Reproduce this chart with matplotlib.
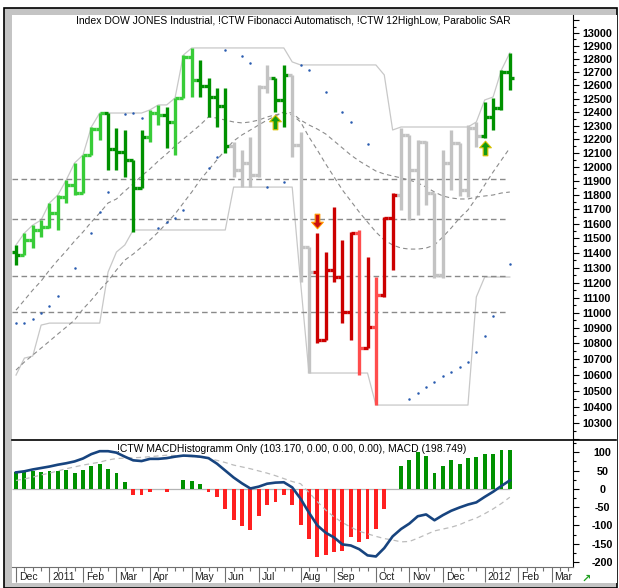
import numpy as np
import pandas as pd
import matplotlib
matplotlib.use('Agg')
import matplotlib.pyplot as plt
from matplotlib.collections import LineCollection
from matplotlib.patches import Rectangle
from matplotlib.lines import Line2D
from matplotlib.path import Path
from matplotlib.transforms import ScaledTranslation, IdentityTransform
import matplotlib.ticker as mticker

plt.rcParams['font.family'] = ['Liberation Sans', 'DejaVu Sans']

# weekly bars (Friday), Dec 2010 .. Jan 2012
weeks = pd.date_range('2010-12-10', periods=60, freq='W-FRI')

highs = [11454, 11536, 11591, 11626, 11745, 11801, 11907, 12029, 12086, 12290,
         12393, 12393, 12283, 12268, 12050, 12268, 12416, 12453, 12438, 12505,
         12830, 12884, 12792, 12655, 12580, 12580, 12180, 12122, 12217, 12602,
         12754, 12655, 12754, 12678, 12253, 11440, 11536, 11406, 11717, 11488,
         11543, 11557, 11372, 11237, 11647, 11815, 12283, 12232, 12195, 12188,
         11815, 12122, 12268, 12173, 12305, 12327, 12475, 12505, 12716, 12846]
lows = [11318, 11385, 11433, 11509, 11571, 11557, 11745, 11801, 11815, 12086,
        12195, 11979, 11979, 11929, 11543, 11850, 12180, 12305, 12137, 12086,
        12505, 12512, 12512, 12364, 12290, 12101, 11929, 11857, 11857, 11929,
        12542, 12401, 12290, 12072, 11203, 10611, 10802, 10822, 11203, 10932,
        10822, 10598, 10770, 10410, 11104, 11284, 11696, 11626, 11661, 11731,
        11230, 11230, 11836, 11794, 11787, 12144, 12210, 12268, 12416, 12565]
closes = [11385, 11488, 11557, 11578, 11675, 11787, 11872, 11815, 12086, 12276,
          12393, 12130, 12108, 12050, 11850, 12217, 12393, 12379, 12327, 12505,
          12815, 12640, 12595, 12512, 12445, 12152, 11979, 12029, 11943, 12587,
          12655, 12490, 12678, 12159, 11440, 11271, 10822, 11284, 11237, 11004,
          11536, 10770, 10906, 11117, 11640, 11801, 12232, 11979, 12180, 11815,
          11250, 12029, 12173, 11836, 12283, 12224, 12364, 12430, 12701, 12655]
first_open = 11406
opens = [first_open] + closes[:-1]

# G dark green, g light green, n neutral, R dark red, r light red
trend = ("G" + "g" * 10 + "G" * 5 + "gg" + "G" + "ggg" + "G" * 4 + "n" * 5 + "GG"
         + "n" * 3 + "R" * 5 + "r" + "R" + "r" + "RR" + "n" * 10 + "G" * 4)

# !CTW 12HighLow channel
chan_high = [11454, 11536, 11591, 11626, 11745, 11801, 11907, 12029, 12086, 12290,
             12393, 12393, 12393, 12393, 12393, 12393, 12416, 12453, 12453, 12505,
             12830, 12884, 12884, 12884, 12884, 12884, 12884, 12884, 12884, 12884,
             12884, 12884, 12884, 12777, 12754, 12754, 12754, 12754, 12754, 12754,
             12754, 12754, 12754, 12754, 12678, 12268, 12290, 12290, 12290, 12290,
             12290, 12290, 12290, 12290, 12290, 12327, 12490, 12512, 12716, 12846]
chan_low = [10598, 10706, 10719, 10919, 10932, 10932, 10932, 10932, 10932, 10932,
            10932, 11271, 11406, 11454, 11557, 11557, 11557, 11557, 11557, 11557,
            11557, 11557, 11557, 11557, 11557, 11557, 11857, 11857, 11857, 11857,
            11857, 11857, 11857, 11857, 11203, 10611, 10611, 10611, 10611, 10611,
            10611, 10611, 10611, 10410, 10410, 10410, 10410, 10410, 10410, 10410,
            10410, 10410, 10410, 10410, 10410, 11104, 11237, 11237, 11237, 11237]

# dashed averages
avg_fast = [11017, 11083, 11150, 11210, 11284, 11351, 11413, 11481, 11543, 11612,
            11675, 11745, 11773, 11829, 11879, 11936, 11986, 12043, 12094, 12151,
            12202, 12253, 12305, 12364, 12356, 12341, 12327, 12320, 12327, 12341,
            12364, 12379, 12393, 12379, 12327, 12217, 12122, 12022, 11929, 11836,
            11759, 11682, 11612, 11543, 11488, 11454, 11433, 11426, 11426, 11433,
            11454, 11509, 11571, 11640, 11696, 11780, 11872, 11964, 12050, 12137]
avg_slow = [10630, 10681, 10725, 10770, 10815, 10861, 10906, 10952, 11024, 11083,
            11150, 11210, 11284, 11351, 11392, 11440, 11488, 11543, 11605, 11668,
            11745, 11822, 11907, 11979, 12050, 12122, 12188, 12232, 12268, 12305,
            12341, 12371, 12401, 12393, 12341, 12305, 12275, 12239, 12188, 12137,
            12086, 12043, 12007, 11971, 11950, 11936, 11922, 11907, 11886, 11857,
            11822, 11794, 11780, 11773, 11773, 11787, 11794, 11801, 11815, 11822]

# !CTW Fibonacci Automatisch levels
fib_levels = [11917, 11630, 11243, 11002]

# Parabolic SAR
sar_idx = [0, 1, 2, 3, 4, 5, 7, 9, 10, 11, 13, 14, 15, 17, 18, 19, 20, 23, 24, 25,
           27, 28, 30, 32, 34, 35, 37, 39, 40, 42, 47, 48, 49, 50, 51, 52, 53, 54,
           55, 56, 57, 59]
sar_val = [10932, 10932, 10958, 10998, 11044, 11110, 11298, 11536, 11682, 11822,
           12386, 12393, 12356, 11571, 11612, 11640, 11696, 11993, 12072, 12869,
           12822, 12769, 11857, 11893, 12754, 12716, 12550, 12401, 12327, 12166,
           10447, 10485, 10522, 10554, 10592, 10617, 10649, 10681, 10745, 10848,
           10978, 11325]

buy_bars = [31, 56]
sell_bars = [36]

# MACD panel
hist = [46, 49, 49, 46, 49, 49, 51, 42, 51, 62, 69, 53, 42, 19, -18, -18, -9, 0, -9, 0,
        23, 21, 12, -9, -22, -54, -84, -103, -112, -73, -45, -36, -18, -45, -100, -138,
        -187, -182, -173, -170, -132, -146, -136, -109, -54, 0, 62, 80, 101, 89, 43, 62,
        78, 69, 85, 87, 94, 94, 107, 107]
macd = [45, 48, 53, 57, 61, 66, 70, 75, 83, 95, 103, 103, 99, 88, 78, 76, 82, 82, 84, 88,
        91, 90, 88, 84, 69, 50, 31, 15, 1, 6, 14, 17, 18, 4, -27, -65, -100, -120, -133,
        -152, -155, -165, -182, -185, -162, -130, -110, -95, -75, -70, -86, -72, -60, -51,
        -43, -37, -22, -8, 8, 23]
signal = [23, 27, 32, 38, 43, 49, 55, 60, 65, 69, 73, 79, 83, 84, 85, 86, 88, 90, 92, 91,
          89, 88, 87, 83, 78, 72, 65, 60, 55, 49, 43, 36, 28, 20, 14, -10, -35, -58, -77,
          -92, -105, -116, -123, -130, -136, -140, -145, -144, -135, -125, -115, -110, -105,
          -98, -88, -80, -68, -55, -40, -23]

title = "Index DOW JONES Industrial, !CTW Fibonacci Automatisch, !CTW 12HighLow, Parabolic SAR"
macd_title = "!CTW MACDHistogramm Only (103.170, 0.00, 0.00, 0.00), MACD (198.749)"

bar_colors = {'G': '#009100', 'g': '#38cc38', 'n': '#c3c3c3', 'R': '#cc0000', 'r': '#ff4d4d'}

W, H = 619, 588
fig = plt.figure(figsize=(W / 100, H / 100), dpi=100, facecolor='white')

# outer frame
px = IdentityTransform()
fig.patches.append(Rectangle((4, 0), 613, H - 7.5, facecolor='#c4c4c4', edgecolor='black',
                             lw=1.2, transform=px, zorder=-10))
fig.patches.append(Rectangle((12, H - 583), 604.5, 568, facecolor='white', edgecolor='none',
                             transform=px, zorder=-9))

x0, x1 = -0.48, 66.55
ax = fig.add_axes([12 / W, (H - 440) / H, 561 / W, 425 / H])
ax2 = fig.add_axes([12 / W, (H - 566.7) / H, 561 / W, 126.7 / H], sharex=ax)

idx = np.arange(len(closes))

# ---- main panel ----
ax.set_yscale('log')
ax.set_ylim(10195, 13140)
ax.set_xlim(x0, x1)

ax.plot(idx, chan_high, color='#c8c8c8', lw=0.9, zorder=1)
ax.plot(idx, chan_low, color='#c8c8c8', lw=0.9, zorder=1)
ax.plot(idx, avg_fast, color='#8c8c8c', lw=0.8, ls=(0, (4, 3)), zorder=1)
ax.plot(idx, avg_slow, color='#8c8c8c', lw=0.8, ls=(0, (4, 3)), zorder=1)
ax.hlines(fib_levels, x0, len(closes) - 1.3, colors='#8a8a8a', lw=1.0,
          linestyles=(0, (4, 2.5)), zorder=1)
ax.plot(sar_idx, sar_val, 'o', ms=1.8, mew=0, color='#2a5cb0', zorder=2)

segs, cols = [], []
for i in idx:
    c = bar_colors[trend[i]]
    segs += [[(i, lows[i]), (i, highs[i])],
             [(i - 0.5, opens[i]), (i, opens[i])],
             [(i, closes[i]), (i + 0.5, closes[i])]]
    cols += [c, c, c]
ax.add_collection(LineCollection(segs, colors=cols, linewidths=2.4, capstyle='butt', zorder=3))

arrow_up = Path([(0, 1), (0.8, 0.1), (0.32, 0.1), (0.32, -1), (-0.32, -1), (-0.32, 0.1),
                 (-0.8, 0.1), (0, 1)], [Path.MOVETO] + [Path.LINETO] * 6 + [Path.CLOSEPOLY])
arrow_dn = Path([(x, -y) for x, y in arrow_up.vertices], arrow_up.codes)
for b in buy_bars:
    tr = ax.transData + ScaledTranslation(0, -7.3 / 72, fig.dpi_scale_trans)
    ax.plot(b, lows[b], marker=arrow_up, ms=10.5, mfc='#129a12', mec='#d8c000', mew=0.8,
            transform=tr, zorder=5, clip_on=False)
for b in sell_bars:
    tr = ax.transData + ScaledTranslation(0, 8.8 / 72, fig.dpi_scale_trans)
    ax.plot(b, highs[b], marker=arrow_dn, ms=10.5, mfc='#cc1010', mec='#ff9a00', mew=0.8,
            transform=tr, zorder=5, clip_on=False)

ax.text(0.501, 0.986, title, transform=ax.transAxes, ha='center', va='center', fontsize=7.5)

for s in ['left', 'top', 'bottom']:
    ax.spines[s].set_visible(False)
ax.spines['right'].set_color('black')
ax.yaxis.tick_right()
major = np.arange(10200, 13101, 100)
ax.set_yticks(major, [str(v) if 10300 <= v <= 13000 else '' for v in major],
              fontweight='bold', fontsize=7.8)
ax.set_yticks(np.arange(10250, 13101, 100), minor=True)
ax.yaxis.set_minor_formatter(mticker.NullFormatter())
ax.tick_params(axis='y', which='major', length=4.3, width=0.8, pad=2.5)
ax.tick_params(axis='y', which='minor', length=2.2, width=0.8)
ax.tick_params(axis='x', which='both', bottom=False, labelbottom=False)
ax.set_facecolor('white')

# ---- MACD panel ----
ax2.set_ylim(-213, 133.6)
ax2.bar(idx, hist, width=0.46, color=['#009100' if v > 0 else '#ff2020' for v in hist],
        zorder=2)
ax2.hlines(0, x0, len(closes) - 1, colors='#b4b4b4', lw=0.9, zorder=1)
ax2.plot(idx, signal, color='#bcbcbc', lw=0.9, ls=(0, (4, 3)), zorder=3)
ax2.plot(idx, macd, color='#17447f', lw=1.9, zorder=4)
ax2.text(0.499, 0.929, macd_title, transform=ax2.transAxes, ha='center', va='center',
         fontsize=7.5, zorder=5)

for s in ['left', 'top']:
    ax2.spines[s].set_visible(False)
ax2.spines['bottom'].set_color('#707070')
ax2.yaxis.tick_right()
mt = np.arange(-200, 101, 50)
ax2.set_yticks(mt, [str(v) for v in mt], fontweight='bold', fontsize=7.8)
ax2.set_yticks(np.arange(-200, 126, 25), minor=True)
ax2.tick_params(axis='y', which='major', length=4.3, width=0.8, pad=17)
ax2.tick_params(axis='y', which='minor', length=2.2, width=0.8)
for lab in ax2.get_yticklabels():
    lab.set_horizontalalignment('center')

# month ticks at the first weekly bar of each month
all_weeks = pd.date_range(weeks[0], periods=67, freq='W-FRI')
month_pos, month_lab = [], []
for i, d in enumerate(all_weeks):
    if i == 0 or d.month != all_weeks[i - 1].month:
        month_pos.append(i)
        month_lab.append(str(d.year) if d.month == 1 else d.strftime('%b'))
ax2.set_xticks(month_pos, month_lab, fontsize=7.5, color='#202020')
ax2.set_xticks(np.arange(len(all_weeks)), minor=True)
ax2.tick_params(axis='x', which='major', length=11, width=0.8, color='#707070', pad=-7.2)
ax2.tick_params(axis='x', which='minor', length=3, width=0.8, color='#707070')
offset = ScaledTranslation(2 / 72, 0, fig.dpi_scale_trans)
for lab in ax2.get_xticklabels():
    lab.set_horizontalalignment('left')
    lab.set_transform(lab.get_transform() + offset)
ax2.set_xlim(x0, x1)

# separator between panels
fig.add_artist(Line2D([12, 616], [H - 440, H - 440], color='black', lw=1.2, transform=px))
fig.text(586 / W, (H - 579) / H, '\u2197', color='#1fa01f', fontsize=8, fontweight='bold',
         ha='center', va='center')

fig.savefig('out.png', dpi=100)
